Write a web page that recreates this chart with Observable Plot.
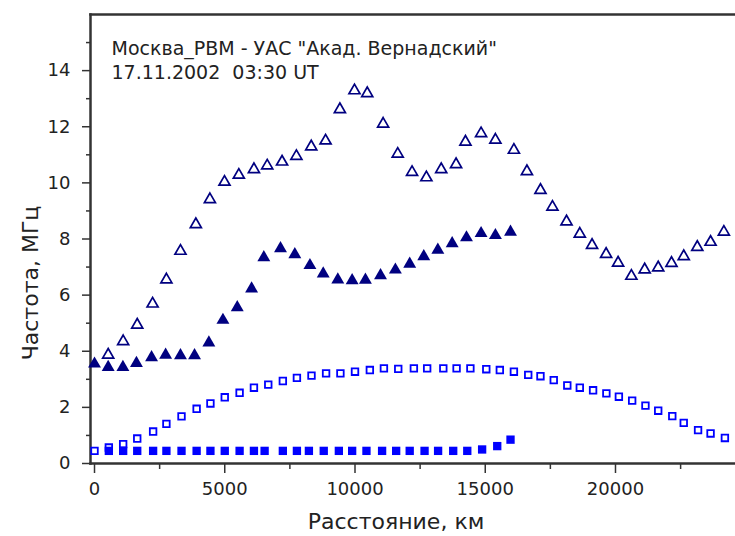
<!DOCTYPE html>
<html>
<head>
<meta charset="utf-8">
<script src="https://cdn.jsdelivr.net/npm/d3@7"></script>
<script src="https://cdn.jsdelivr.net/npm/@observablehq/plot@0.6"></script>
<style>
  html, body { margin: 0; padding: 0; background: #fff; }
  svg text { white-space: pre; }
</style>
</head>
<body>
<div id="chart"></div>
<script>
// ---- data ----
const titleText = "Москва_РВМ - УАС \"Акад. Вернадский\"\n17.11.2002  03:30 UT";
const xLabel = "Расстояние, км";
const yLabel = "Частота, МГц";

const xDomain = [-154, 24607];
const yDomain = [0, 16];
const xMajorTicks = [0, 5000, 10000, 15000, 20000];
const xMinorTicks = [2500, 7500, 12500, 17500, 22500];
const yMajorTicks = [0, 2, 4, 6, 8, 10, 12, 14];
const yMinorTicks = [1, 3, 5, 7, 9, 11, 13, 15];

// open triangles
const openTriX = [525,1100,1640,2230,2760,3300,3890,4430,4990,5540,6120,6630,7200,7750,8320,8870,9420,9980,10470,11080,11640,12190,12740,13310,13880,14240,14840,15390,16100,16600,17120,17580,18120,18630,19100,19640,20100,20610,21120,21640,22150,22620,23140,23650,24160];
const openTriY = [3.87,4.35,4.94,5.69,6.55,7.57,8.52,9.41,10.03,10.28,10.48,10.61,10.75,10.95,11.29,11.50,12.62,13.29,13.19,12.10,11.03,10.38,10.19,10.48,10.66,11.46,11.76,11.53,11.17,10.41,9.74,9.14,8.62,8.18,7.78,7.46,7.15,6.68,6.91,6.98,7.14,7.38,7.71,7.89,8.25];

// filled triangles
const fillTriX = [0,525,1090,1610,2190,2730,3300,3840,4390,4930,5480,6030,6500,7140,7690,8270,8780,9340,9890,10400,10980,11550,12100,12640,13180,13730,14280,14840,15390,15970];
const fillTriY = [3.55,3.43,3.43,3.57,3.78,3.87,3.85,3.85,4.30,5.11,5.56,6.23,7.34,7.66,7.45,7.06,6.76,6.55,6.52,6.54,6.70,6.90,7.11,7.38,7.61,7.84,8.05,8.20,8.13,8.25];

// open squares
const openSqX = [0,550,1100,1640,2250,2760,3340,3920,4450,5000,5570,6120,6670,7230,7770,8330,8890,9440,10000,10570,11110,11660,12260,12770,13390,13900,14430,15040,15560,16100,16650,17120,17630,18150,18630,19140,19650,20130,20640,21150,21640,22180,22620,23170,23650,24200];
const openSqY = [0.45,0.57,0.69,0.89,1.14,1.41,1.68,1.95,2.14,2.36,2.52,2.70,2.81,2.94,3.05,3.13,3.21,3.21,3.27,3.33,3.39,3.37,3.39,3.39,3.39,3.39,3.39,3.36,3.33,3.27,3.16,3.11,2.97,2.78,2.70,2.61,2.50,2.38,2.24,2.06,1.88,1.69,1.45,1.19,1.07,0.91];

// filled squares
const fillSqX = [550,1100,1640,2250,2760,3340,3920,4450,5000,5570,6120,6530,7230,7770,8230,8800,9380,9890,10440,11040,11580,12100,12670,13190,13770,14310,14880,15460,15970];
const fillSqY = [0.45,0.45,0.45,0.45,0.45,0.45,0.45,0.45,0.45,0.45,0.45,0.45,0.45,0.45,0.45,0.45,0.45,0.45,0.45,0.45,0.45,0.45,0.45,0.45,0.45,0.45,0.50,0.62,0.85];

// ---- build ----
const pts = (xs, ys) => xs.map((x, i) => ({x, y: ys[i]}));
const NAVY = "#000080", BLUE = "#0000ff", AX = "#333";
const FONT = "DejaVu Sans, sans-serif";

const chart = Plot.plot({
  width: 735,
  height: 536,
  marginLeft: 90,
  marginRight: 0,
  marginTop: 14,
  marginBottom: 73,
  style: {fontFamily: FONT, fontSize: "18px", color: "#222", background: "#fff"},
  x: {domain: xDomain},
  y: {domain: yDomain},
  marks: [
    Plot.frame({anchor: "left", stroke: AX, strokeWidth: 2.5}),
    Plot.frame({anchor: "top", stroke: AX, strokeWidth: 2.5}),
    Plot.frame({anchor: "bottom", stroke: AX, strokeWidth: 2.5}),
    Plot.axisY({ticks: yMajorTicks, tickSize: 8, tickPadding: 12, tickFormat: d => String(d), label: null, stroke: AX, strokeWidth: 1.5, fontSize: 18}),
    Plot.axisY({ticks: yMinorTicks, tickSize: 4, tickFormat: () => "", label: null, stroke: AX, strokeWidth: 1.5}),
    Plot.axisX({ticks: xMajorTicks, tickSize: 10, tickPadding: 9, tickFormat: d => String(d), label: null, stroke: AX, strokeWidth: 1.5, fontSize: 18}),
    Plot.axisX({ticks: xMinorTicks, tickSize: 6, tickFormat: () => "", label: null, stroke: AX, strokeWidth: 1.5}),
    Plot.text([xLabel], {frameAnchor: "bottom", textAnchor: "middle", lineAnchor: "middle", dx: -17, dy: 58, fontSize: 22, fill: "#222"}),
    Plot.text([yLabel], {frameAnchor: "left", textAnchor: "middle", lineAnchor: "middle", rotate: -90, dx: -60, dy: 44, fontSize: 22, fill: "#222"}),
    Plot.text([titleText], {frameAnchor: "top-left", textAnchor: "start", lineAnchor: "top", dx: 21, dy: 23.2, lineHeight: 1.28, fontSize: 19, fill: "#222"}),
    Plot.dot(pts(openSqX, openSqY), {x: "x", y: "y", symbol: "square", r: 3.7, stroke: BLUE, strokeWidth: 1.8, fill: "white"}),
    Plot.dot(pts(fillSqX, fillSqY), {x: "x", y: "y", symbol: "square", r: 4.7, fill: BLUE, stroke: "none"}),
    Plot.dot(pts(openTriX, openTriY), {x: "x", y: "y", symbol: "triangle", r: 4.1, stroke: NAVY, strokeWidth: 1.7, fill: "white"}),
    Plot.dot(pts(fillTriX, fillTriY), {x: "x", y: "y", symbol: "triangle", r: 4.8, fill: NAVY, stroke: "none"})
  ]
});
document.getElementById("chart").appendChild(chart);
</script>
</body>
</html>
